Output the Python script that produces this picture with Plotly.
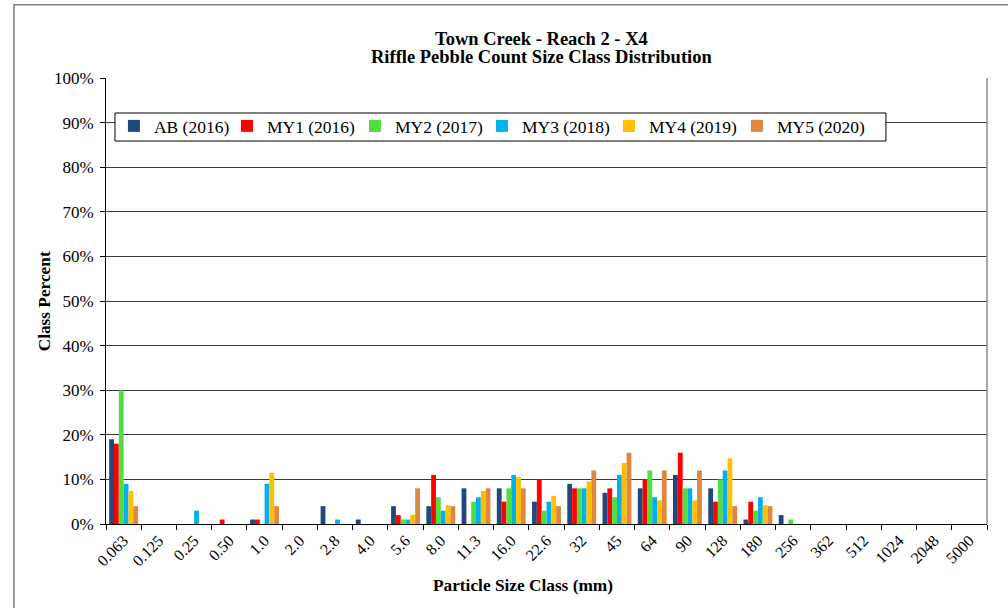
import plotly.graph_objects as go

# Particle size classes (mm)
size_classes = ["0.063", "0.125", "0.25", "0.50", "1.0", "2.0", "2.8", "4.0", "5.6", "8.0",
                "11.3", "16.0", "22.6", "32", "45", "64", "90", "128", "180", "256",
                "362", "512", "1024", "2048", "5000"]

# Class percent per monitoring year
ab_2016 = [19, 0, 0, 0, 1, 0, 4, 1, 4, 4, 8, 8, 5, 9, 7, 8, 11, 8, 1, 2, 0, 0, 0, 0, 0]
my1_2016 = [18, 0, 0, 1, 1, 0, 0, 0, 2, 11, 0, 5, 10, 8, 8, 10, 16, 5, 5, 0, 0, 0, 0, 0, 0]
my2_2017 = [30, 0, 0, 0, 0, 0, 0, 0, 1, 6, 5, 8, 3, 8, 6, 12, 8, 10, 3, 1, 0, 0, 0, 0, 0]
my3_2018 = [9, 0, 3, 0, 9, 0, 1, 0, 1, 3, 6, 11, 5, 8, 11, 6, 8, 12, 6, 0, 0, 0, 0, 0, 0]
my4_2019 = [7.4, 0, 0, 0, 11.5, 0, 0, 0, 2.1, 4.2, 7.4, 10.5, 6.3, 9.5, 13.7, 5.3, 5.3, 14.7, 4.2, 0, 0, 0, 0, 0, 0]
my5_2020 = [4, 0, 0, 0, 4, 0, 0, 0, 8, 4, 8, 8, 4, 12, 16, 12, 12, 4, 4, 0, 0, 0, 0, 0, 0]

# (legend label, values, colour, legend entry width in px)
series = [
    ("AB (2016)", ab_2016, "#1F497D", 68),
    ("MY1 (2016)", my1_2016, "#FF0000", 83),
    ("MY2 (2017)", my2_2017, "#4FDF3C", 82),
    ("MY3 (2018)", my3_2018, "#00B0F0", 82),
    ("MY4 (2019)", my4_2019, "#FFC000", 83),
    ("MY5 (2020)", my5_2020, "#DF873F", 100),
]

SERIF = "Liberation Serif, Times New Roman, serif"

fig = go.Figure()
for name, values, color, lw in series:
    fig.add_trace(go.Bar(x=size_classes, y=values, name=name, legendwidth=lw,
                         marker=dict(color=color, line=dict(width=0))))

fig.update_layout(
    width=1008, height=608,
    margin=dict(l=106, r=21, t=78, b=84),
    paper_bgcolor="white", plot_bgcolor="white",
    barmode="group", bargap=0.18, bargroupgap=0,
    font=dict(family=SERIF, size=14, color="black"),
    showlegend=True,
    legend=dict(orientation="h", x=0.009, y=0.9327, xanchor="left", yanchor="top",
                bgcolor="rgba(0,0,0,0)", borderwidth=0,
                font=dict(family=SERIF, size=17.5, color="black"),
                entrywidthmode="pixels", traceorder="normal"),
    xaxis=dict(type="category", tickson="boundaries", ticks="outside", ticklen=5,
               tickcolor="black", tickangle=-45, showline=True, linecolor="black",
               linewidth=1, showgrid=False, tickfont=dict(family=SERIF, size=16)),
    yaxis=dict(range=[0, 100], dtick=10, ticksuffix="%", ticks="outside", ticklen=5,
               tickcolor="black", showline=True, linecolor="black", linewidth=1,
               showgrid=True, gridcolor="#3a3a3a", gridwidth=1, zeroline=False,
               ticklabelstandoff=3, tickfont=dict(family=SERIF, size=17)),
)

# Chart titles
fig.add_annotation(text="<b>Town Creek - Reach 2 - X4</b>", xref="paper", yref="paper",
                   x=0.494, y=1.0875, xanchor="center", yanchor="middle", showarrow=False,
                   font=dict(family=SERIF, size=18.5))
fig.add_annotation(text="<b>Riffle Pebble Count Size Class Distribution</b>", xref="paper",
                   yref="paper", x=0.494, y=1.0465, xanchor="center", yanchor="middle",
                   showarrow=False, font=dict(family=SERIF, size=18.5))
fig.add_annotation(text="<b>Particle Size Class (mm)</b>", xref="paper", yref="paper",
                   x=0.473, y=-0.137, xanchor="center", yanchor="middle", showarrow=False,
                   font=dict(family=SERIF, size=17.3))
fig.add_annotation(text="<b>Class Percent</b>", xref="paper", yref="paper",
                   x=-0.07, y=0.5, xanchor="center", yanchor="middle", textangle=-90,
                   showarrow=False, font=dict(family=SERIF, size=17.3))

# Legend frame (white box over the gridlines)
fig.add_shape(type="rect", xref="paper", yref="paper", x0=0.0102, x1=0.8853,
              y0=0.8587, y1=0.9215, fillcolor="white", line=dict(color="black", width=1),
              layer="above")
# Right edge of plot area
fig.add_shape(type="line", xref="paper", yref="paper", x0=1, x1=1, y0=0, y1=1,
              line=dict(color="#8c8c8c", width=1.5))
# Outer chart frame
fig.add_shape(type="rect", xref="paper", yref="paper", x0=-0.1045, x1=1.2, y0=-0.3, y1=1.164,
              line=dict(color="#7f7f7f", width=1.5), layer="below")

fig.write_html("out.html")
